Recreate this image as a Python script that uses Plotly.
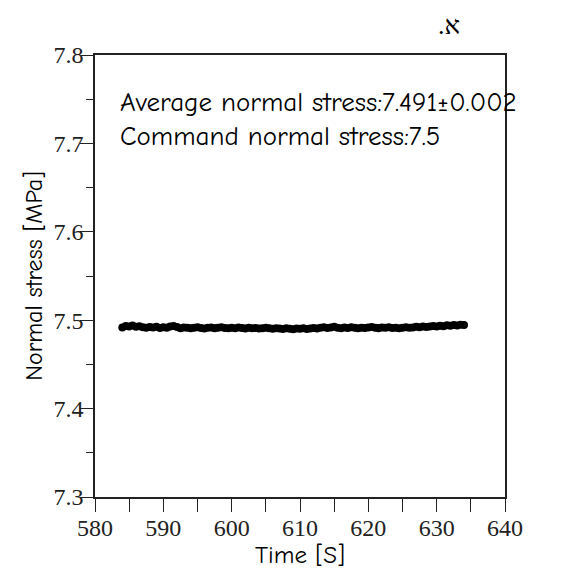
import plotly.graph_objects as go

# Data: time [s] and normal stress [MPa]
time_s = [584 + 0.5 * i for i in range(101)]
stress = [
    7.4918, 7.4935, 7.4928, 7.4940, 7.4925, 7.4932, 7.4920, 7.4915, 7.4922, 7.4918,
    7.4925, 7.4912, 7.4920, 7.4916, 7.4928, 7.4934, 7.4922, 7.4910, 7.4918, 7.4914,
    7.4908, 7.4916, 7.4920, 7.4912, 7.4905, 7.4914, 7.4918, 7.4910, 7.4915, 7.4920,
    7.4912, 7.4908, 7.4915, 7.4910, 7.4918, 7.4912, 7.4906, 7.4914, 7.4908, 7.4912,
    7.4905, 7.4910, 7.4915, 7.4908, 7.4902, 7.4910, 7.4906, 7.4900, 7.4908, 7.4904,
    7.4898, 7.4906, 7.4902, 7.4908, 7.4900, 7.4905, 7.4912, 7.4906, 7.4915, 7.4920,
    7.4912, 7.4918, 7.4925, 7.4915, 7.4910, 7.4918, 7.4912, 7.4920, 7.4914, 7.4908,
    7.4916, 7.4912, 7.4918, 7.4922, 7.4915, 7.4910, 7.4918, 7.4914, 7.4920, 7.4912,
    7.4916, 7.4910, 7.4915, 7.4920, 7.4914, 7.4918, 7.4925, 7.4920, 7.4928, 7.4922,
    7.4930, 7.4935, 7.4928, 7.4938, 7.4932, 7.4942, 7.4936, 7.4945, 7.4940, 7.4948,
    7.4945,
]

x_ticks = [580, 590, 600, 610, 620, 630, 640]
y_ticks = [7.3, 7.4, 7.5, 7.6, 7.7, 7.8]

label_font = "Comic Neue, Comic Sans MS, DejaVu Sans, sans-serif"
tick_font = "Liberation Serif, Times New Roman, serif"

L, R, T, B = 95, 57, 55, 72
W, H = 562, 569
pw, ph = W - L - R, H - T - B

fig = go.Figure()
fig.add_trace(go.Scatter(
    x=time_s, y=stress, mode="lines+markers",
    line=dict(color="black", width=6, shape="linear"),
    marker=dict(color="black", size=8, symbol="circle"),
    showlegend=False,
))

axis_common = dict(
    showgrid=False, zeroline=False, automargin=False,
    showline=True, linecolor="#222", linewidth=1.5, mirror=True,
    ticks="outside", tickcolor="#222", tickwidth=1.2, ticklen=13,
    tickfont=dict(family=tick_font, size=24, color="#222"),
)

fig.update_xaxes(
    range=[580, 640], tickvals=x_ticks, ticklabelstandoff=-5,
    minor=dict(dtick=5, ticks="outside", ticklen=13, tickcolor="#222", tickwidth=1.2),
    title=dict(text="Time [S]", font=dict(family=label_font, size=25, color="black"), standoff=6),
    **axis_common,
)
fig.update_yaxes(
    range=[7.3, 7.8], tickvals=y_ticks, tickformat=".1f", ticklabelstandoff=-8,
    minor=dict(dtick=0.05, ticks="outside", ticklen=7, tickcolor="#222", tickwidth=1.2),
    title=dict(text="Normal stress [MPa]", font=dict(family=label_font, size=24, color="black"), standoff=4),
    **axis_common,
)

fig.add_annotation(
    x=(118 - L) / pw, y=(H - B - 103) / ph, xref="paper", yref="paper",
    xanchor="left", yanchor="middle",
    text="Average normal stress:7.491±0.002", showarrow=False,
    font=dict(family=label_font, size=27, color="black"),
)
fig.add_annotation(
    x=(118 - L) / pw, y=(H - B - 136) / ph, xref="paper", yref="paper",
    xanchor="left", yanchor="middle",
    text="Command normal stress:7.5", showarrow=False,
    font=dict(family=label_font, size=27, color="black"),
)
fig.add_annotation(
    x=(449 - L) / pw, y=(H - B - 25) / ph, xref="paper", yref="paper",
    xanchor="center", yanchor="middle", showarrow=False,
    text=".א", font=dict(family=tick_font, size=26, color="black"),
)

fig.update_layout(
    width=W, height=H,
    margin=dict(l=L, r=R, t=T, b=B),
    paper_bgcolor="white", plot_bgcolor="white",
)

fig.write_html("out.html")
